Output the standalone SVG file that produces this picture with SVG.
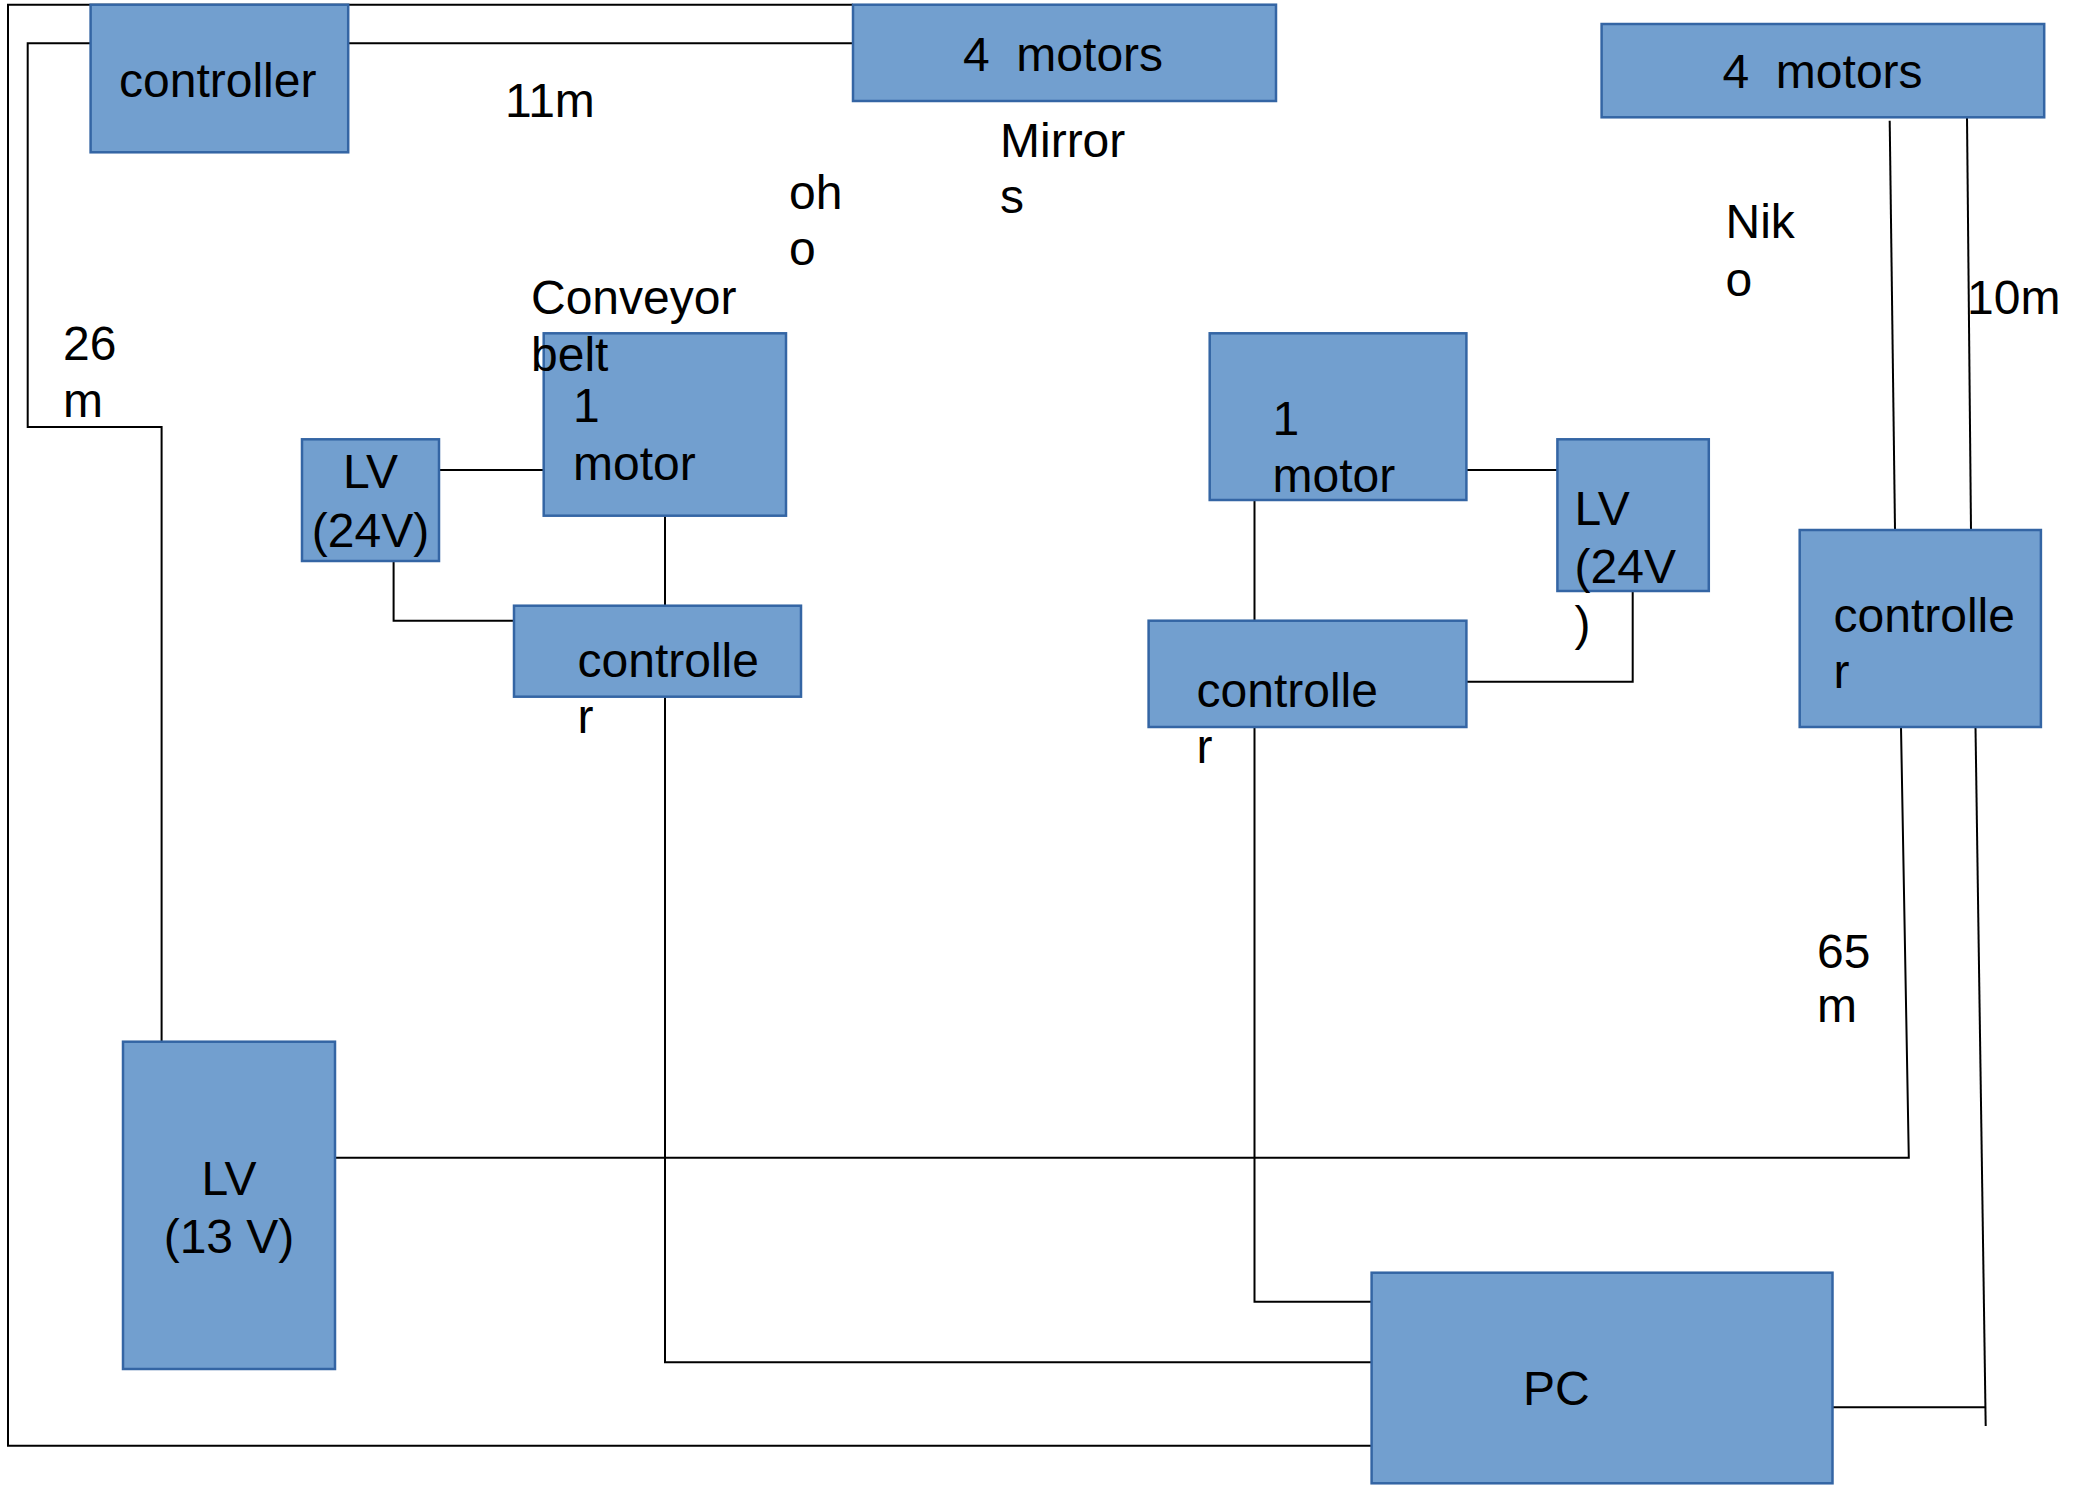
<svg xmlns="http://www.w3.org/2000/svg" width="2077" height="1487" viewBox="0 0 2077 1487">
<style>
.box{fill:#729fcf;stroke:#3465a4;stroke-width:2.5}
.ln{fill:none;stroke:#000;stroke-width:2}
text{font-family:"Liberation Sans",Arial,sans-serif;font-size:48px;fill:#000;white-space:pre}
.m{text-anchor:middle}
</style>
<rect width="2077" height="1487" fill="#fff"/>
<g id="connectors">
<polyline class="ln" points="853,4.7 8,4.7 8,1445.7 1371.6,1445.7"/>
<polyline class="ln" points="853,43.3 27.7,43.3 27.7,427 161.6,427 161.6,1041.7"/>
<line class="ln" x1="439" y1="470" x2="544" y2="470"/>
<polyline class="ln" points="393.6,561 393.6,620.7 514,620.7"/>
<line class="ln" x1="665" y1="515.7" x2="665" y2="605.7"/>
<polyline class="ln" points="665,696.7 665,1362.3 1371.6,1362.3"/>
<line class="ln" x1="1466.4" y1="470" x2="1557.4" y2="470"/>
<polyline class="ln" points="1632.7,591 1632.7,681.7 1466.4,681.7"/>
<line class="ln" x1="1254.5" y1="500" x2="1254.5" y2="620.7"/>
<polyline class="ln" points="1254.5,727 1254.5,1301.7 1371.6,1301.7"/>
<line class="ln" x1="1889.7" y1="120.7" x2="1895" y2="530"/>
<line class="ln" x1="1967" y1="117" x2="1971" y2="530"/>
<polyline class="ln" points="1901,727 1908.8,1157.7 335,1157.7"/>
<line class="ln" x1="1975.5" y1="727" x2="1985.7" y2="1426"/>
<line class="ln" x1="1832.5" y1="1407.3" x2="1985.7" y2="1407.3"/>
</g>
<g id="controller-top">
<rect class="box" x="90.6" y="4.7" width="257.6" height="147.6"/>
<text x="119" y="97">controller</text>
</g>
<g id="motors4-left">
<rect class="box" x="853" y="4.7" width="423" height="96.3"/>
<text x="963" y="71">4  motors</text>
</g>
<g id="motors4-right">
<rect class="box" x="1601.6" y="24" width="442.6" height="93.3"/>
<text x="1722.5" y="88.3">4  motors</text>
</g>
<g id="motor1-left">
<rect class="box" x="543.7" y="333.3" width="242.3" height="182.4"/>
<text x="573" y="421.7">1</text>
<text x="573" y="480">motor</text>
</g>
<g id="lv24-left">
<rect class="box" x="302" y="439.3" width="137" height="121.7"/>
<text class="m" x="370.5" y="488">LV</text>
<text class="m" x="370.5" y="546.7">(24V)</text>
</g>
<g id="controller-left">
<rect class="box" x="514" y="605.7" width="287" height="91"/>
<text x="577.5" y="676.7">controlle</text>
<text x="577.5" y="733">r</text>
</g>
<g id="motor1-right">
<rect class="box" x="1209.7" y="333.3" width="256.7" height="166.7"/>
<text x="1272.5" y="435">1</text>
<text x="1272.5" y="491.7">motor</text>
</g>
<g id="lv24-right">
<rect class="box" x="1557.4" y="439.3" width="151.4" height="151.7"/>
<text x="1574.5" y="525">LV</text>
<text x="1574.5" y="583">(24V</text>
<text x="1574.5" y="640">)</text>
</g>
<g id="controller-middle">
<rect class="box" x="1148.6" y="620.7" width="317.8" height="106.3"/>
<text x="1196.5" y="706.7">controlle</text>
<text x="1196.5" y="763.3">r</text>
</g>
<g id="controller-right">
<rect class="box" x="1799.7" y="530" width="241.2" height="197"/>
<text x="1833.5" y="631.7">controlle</text>
<text x="1833.5" y="688.3">r</text>
</g>
<g id="lv13">
<rect class="box" x="123" y="1041.7" width="212" height="327.3"/>
<text class="m" x="229" y="1195">LV</text>
<text class="m" x="229" y="1253">(13 V)</text>
</g>
<g id="pc">
<rect class="box" x="1371.6" y="1272.7" width="460.9" height="210.6"/>
<text x="1523" y="1405">PC</text>
</g>
<g id="labels">
<text x="505" y="117">11m</text>
<text x="1000" y="157">Mirror</text>
<text x="1000" y="213">s</text>
<text x="789" y="209">oh</text>
<text x="789" y="265">o</text>
<text x="531" y="314">Conveyor</text>
<text x="531" y="371">belt</text>
<text x="63" y="360">26</text>
<text x="63" y="417">m</text>
<text x="1725.5" y="238">Nik</text>
<text x="1725.5" y="296">o</text>
<text x="1967" y="314">10m</text>
<text x="1817" y="968">65</text>
<text x="1817" y="1022">m</text>
</g>
</svg>
